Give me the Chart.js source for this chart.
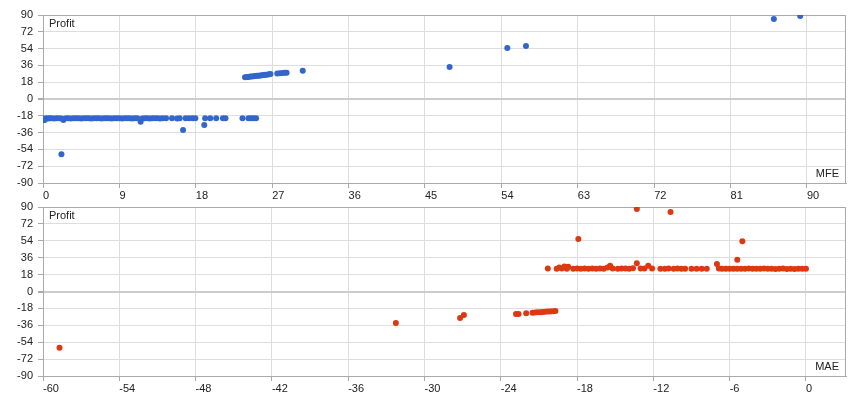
<!DOCTYPE html>
<html>
<head>
<meta charset="utf-8">
<script src="https://cdn.jsdelivr.net/npm/chart.js@4"></script>
<style>
  html, body { margin: 0; padding: 0; background: #fff; }
  #wrap { position: relative; width: 860px; height: 400px; }
  #mfeChart { position: absolute; left: 0; top: 0; }
  #maeChart { position: absolute; left: 0; top: 192px; }
</style>
</head>
<body>
<div id="wrap">
  <canvas id="mfeChart" width="860" height="200"></canvas>
  <canvas id="maeChart" width="860" height="201"></canvas>
</div>
<script>
"use strict";

// MFE vs Profit (top chart), [mfe, profit]
const mfePoints = [
  [0.1,-21],[0.2,-22.5],[0.4,-20.5],[0.6,-21],[0.8,-20.5],[1.0,-20.5],[1.3,-21],[1.6,-20.5],
  [1.9,-20.5],[2.17,-59.3],[2.2,-21],[2.4,-22.5],[2.7,-20.5],[3.0,-20.5],[3.3,-21],[3.6,-20.5],
  [3.9,-20.5],[4.2,-20.5],[4.5,-21],[4.8,-20.5],[5.1,-20.5],[5.4,-20.5],[5.7,-21],[6.0,-20.5],
  [6.3,-20.5],[6.6,-20.5],[6.9,-21],[7.2,-20.5],[7.5,-20.5],[7.8,-20.5],[8.1,-21],[8.4,-20.5],
  [8.7,-20.5],[9.0,-20.5],[9.3,-21],[9.6,-20.5],[9.9,-20.5],[10.2,-20.5],[10.5,-21],[10.8,-20.5],
  [11.1,-20.5],[11.5,-24.5],[11.7,-21],[12.0,-20.5],[12.3,-20.5],[12.6,-21],[12.9,-20.5],[13.2,-20.5],
  [13.5,-20.5],[13.8,-21],[14.1,-20.5],[14.5,-20.5],[15.2,-20.5],[15.8,-21],[16.1,-20.5],[16.5,-33.2],
  [16.8,-20.5],[17.2,-20.5],[17.6,-20.5],[17.95,-20.5],[19.0,-27.9],[19.1,-20.5],[19.7,-20.5],[20.4,-20.5],
  [21.2,-20.5],[21.5,-20.5],[23.5,-20.5],[24.2,-20.5],[24.5,-20.5],[24.8,-20.5],[25.1,-20.5],
  [23.8,23.2],[24.0,23.5],[24.2,23.7],[24.4,24.0],[24.6,24.2],[24.8,24.4],[25.0,24.6],[25.2,24.8],
  [25.4,25.0],[25.6,25.2],[25.8,25.4],[26.0,25.6],[26.2,25.9],[26.4,26.1],[26.6,26.4],[26.8,26.7],
  [27.6,27.4],[27.9,27.6],[28.2,27.8],[28.5,28.0],[28.7,28.2],[30.6,30.3],[47.9,34.3],[54.7,54.6],
  [56.9,56.8],[86.1,85.7],[89.2,88.9]
];

// MAE vs Profit (bottom chart), [mae, profit]
const maePoints = [
  [-58.7,-59.8],[-32.25,-33.5],[-27.2,-28.2],[-26.9,-25],[-22.8,-24],[-22.6,-24],[-22.0,-23.2],
  [-21.5,-22.5],[-21.3,-22.3],[-21.1,-22.2],[-20.9,-22],[-20.7,-21.8],[-20.5,-21.6],[-20.3,-21.4],
  [-20.1,-21.2],[-19.9,-21],[-19.7,-20.8],
  [-20.3,24.5],[-19.6,24.2],[-19.4,25.5],[-19.2,24.5],[-19.0,26.5],[-18.8,24.3],[-18.7,26.4],
  [-18.3,24.2],[-18.0,24.5],[-17.9,55.9],[-17.7,24.2],[-17.4,24.5],[-17.1,24.2],[-16.8,24.5],
  [-16.5,24.2],[-16.2,24.5],[-15.9,24.2],[-15.6,25.5],[-15.4,27.5],[-15.2,24.5],[-14.8,24.2],
  [-14.5,24.5],[-14.2,24.5],[-13.9,24.2],[-13.6,24.8],[-13.3,30],[-13.3,87.9],[-13.0,24.5],
  [-12.7,24.5],[-12.4,27.5],[-12.1,24.5],[-11.45,24.2],[-11.1,24.2],[-10.8,24.5],[-10.65,84.7],
  [-10.4,24.2],[-10.1,24.5],[-9.8,24.2],[-9.5,24.2],[-9.0,24.2],[-8.6,24.2],[-8.2,24.2],
  [-7.8,24.2],[-7.0,29.3],[-6.85,24.5],[-6.6,24.2],[-6.3,24.2],[-6.0,24.2],[-5.7,24.2],
  [-5.4,33.9],[-5.4,24.2],[-5.0,53.5],[-5.1,24.2],[-4.8,24.2],[-4.5,24.5],[-4.2,24.2],
  [-3.9,24.2],[-3.6,24.2],[-3.3,24.5],[-3.0,24.2],[-2.7,24.2],[-2.4,24.0],[-2.1,24.2],
  [-1.8,24.5],[-1.5,24.0],[-1.2,24.2],[-0.9,24.0],[-0.6,24.2],[-0.3,24.2],[0,24.2]
];

const profitTicks = [-90, -72, -54, -36, -18, 0, 18, 36, 54, 72, 90];
const mfeTicks = [0, 9, 18, 27, 36, 45, 54, 63, 72, 81, 90];
const maeTicks = [-60, -54, -48, -42, -36, -30, -24, -18, -12, -6, 0];

const yTitle = "Profit";
const mfeTitle = "MFE";
const maeTitle = "MAE";

const FONT = "'Liberation Sans', Arial, sans-serif";

// frame + corner titles
const framePlugin = {
  id: "frame",
  beforeDatasetsDraw(chart) {
    const a = chart.chartArea;
    const ctx = chart.ctx;
    ctx.save();
    ctx.strokeStyle = "#aaaaaa";
    ctx.lineWidth = 1;
    ctx.strokeRect(Math.round(a.left) + 0.5, Math.round(a.top) + 0.5,
      Math.round(a.right - a.left) - 1, Math.round(a.bottom - a.top));
    ctx.restore();
  },
  afterDraw(chart, args, opts) {
    const a = chart.chartArea;
    const ctx = chart.ctx;
    ctx.save();
    ctx.font = "11px " + FONT;
    ctx.fillStyle = "#222";
    ctx.textBaseline = "middle";
    ctx.textAlign = "left";
    ctx.fillText(opts.yTitle, a.left + 6, a.top + 9);
    ctx.textAlign = "right";
    ctx.fillText(opts.xTitle, a.right - 7, a.bottom - 9);
    ctx.restore();
  }
};

function makeChart(id, points, color, xTicks, xMin, xMax, xTitle) {
  const ctx = document.getElementById(id).getContext("2d");
  return new Chart(ctx, {
    type: "scatter",
    data: {
      datasets: [{
        data: points.map(p => ({ x: p[0], y: p[1] })),
        backgroundColor: color,
        borderWidth: 0,
        pointRadius: 3,
      }]
    },
    options: {
      responsive: false,
      animation: false,
      layout: { padding: { top: 15, right: 14, left: 0, bottom: 0 } },
      plugins: {
        legend: { display: false },
        tooltip: { enabled: false },
        frame: { yTitle: yTitle, xTitle: xTitle }
      },
      scales: {
        x: {
          type: "linear",
          min: xMin,
          max: xMax,
          afterFit: s => { s.height = 17; },
          afterBuildTicks: s => { s.ticks = xTicks.map(v => ({ value: v })); },
          border: { display: true, color: "#aaaaaa" },
          grid: {
            color: "#dddddd",
            tickColor: "#aaaaaa",
            tickLength: 5,
          },
          ticks: {
            align: "start",
            padding: 1,
            color: "#222",
            font: { family: FONT, size: 11 },
          }
        },
        y: {
          type: "linear",
          min: -90,
          max: 90,
          afterFit: s => { s.width = 43; },
          afterBuildTicks: s => { s.ticks = profitTicks.map(v => ({ value: v })); },
          border: { display: true, color: "#aaaaaa" },
          grid: {
            color: c => c.tick && c.tick.value === 0 ? "#cccccc" : "#dddddd",
            lineWidth: c => c.tick && c.tick.value === 0 ? 2 : 1,
            tickColor: "#aaaaaa",
            tickLength: 5,
          },
          ticks: {
            padding: 5,
            color: "#222",
            font: { family: FONT, size: 11 },
          }
        }
      }
    },
    plugins: [framePlugin]
  });
}

makeChart("mfeChart", mfePoints, "#3366cc", mfeTicks, 0, 94.6, mfeTitle);
makeChart("maeChart", maePoints, "#dc3912", maeTicks, -60, 3.15, maeTitle);
</script>
</body>
</html>
